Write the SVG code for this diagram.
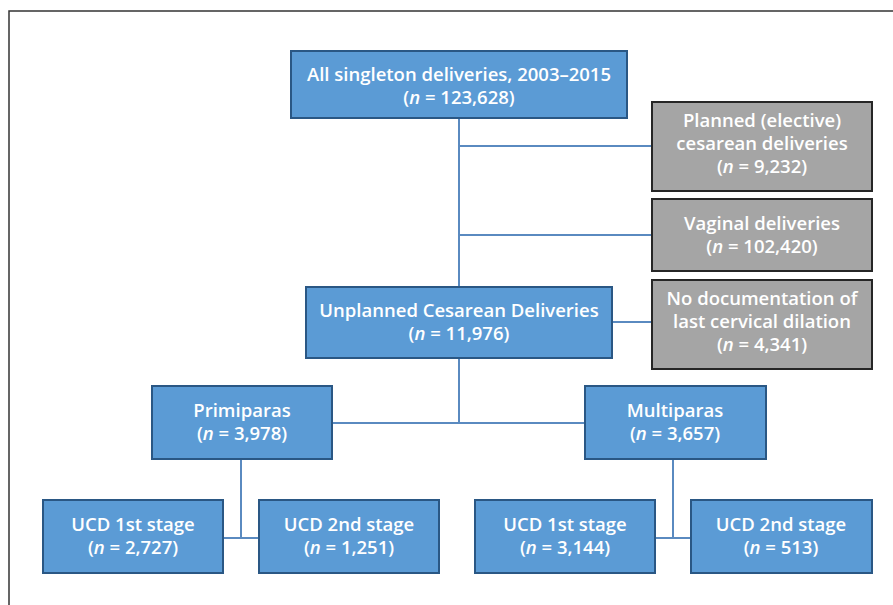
<svg xmlns="http://www.w3.org/2000/svg" width="893" height="605" viewBox="0 0 893 605">
<style>
.b{fill:#5B9BD5;stroke:#2A5784;stroke-width:2}
.g{fill:#A5A5A5;stroke:#262626;stroke-width:2}
text{font-family:"Open Sans","Noto Sans","DejaVu Sans",sans-serif;font-size:18.5px;font-weight:600;fill:#FFFFFF;text-anchor:middle}
.c line{stroke:#5A8AC0;stroke-width:2}
</style>
<rect x="0" y="0" width="893" height="605" fill="#FFFFFF"/>
<path d="M9,605 V11 H893" fill="none" stroke="#333333" stroke-width="1.5"/>
<g class="c">
<line x1="459" y1="118" x2="459" y2="287"/>
<line x1="459" y1="146" x2="652" y2="146"/>
<line x1="459" y1="235" x2="652" y2="235"/>
<line x1="612" y1="322" x2="652" y2="322"/>
<line x1="459" y1="358" x2="459" y2="423"/>
<line x1="332" y1="423" x2="585" y2="423"/>
<line x1="241" y1="459" x2="241" y2="538"/>
<line x1="223" y1="538" x2="259" y2="538"/>
<line x1="673" y1="459" x2="673" y2="538"/>
<line x1="655" y1="538" x2="691" y2="538"/>
</g>
<g id="all">
<rect class="b" x="291" y="51" width="336" height="67"/>
<text x="459" y="81">All singleton deliveries, 2003–2015</text>
<text x="459" y="104">(<tspan font-style="italic">n</tspan> = 123,628)</text>
</g>
<g id="planned">
<rect class="g" x="652" y="102" width="220" height="89"/>
<text x="762" y="127">Planned (elective)</text>
<text x="762" y="150">cesarean deliveries</text>
<text x="762" y="173">(<tspan font-style="italic">n</tspan> = 9,232)</text>
</g>
<g id="vaginal">
<rect class="g" x="652" y="199" width="220" height="72"/>
<text x="762" y="230">Vaginal deliveries</text>
<text x="762" y="253">(<tspan font-style="italic">n</tspan> = 102,420)</text>
</g>
<g id="nodoc">
<rect class="g" x="652" y="280" width="220" height="89"/>
<text x="762" y="305">No documentation of</text>
<text x="762" y="328">last cervical dilation</text>
<text x="762" y="351">(<tspan font-style="italic">n</tspan> = 4,341)</text>
</g>
<g id="unplanned">
<rect class="b" x="306" y="287" width="306" height="71"/>
<text x="459" y="317">Unplanned Cesarean Deliveries</text>
<text x="459" y="340">(<tspan font-style="italic">n</tspan> = 11,976)</text>
</g>
<g id="primi">
<rect class="b" x="152" y="386" width="180" height="73"/>
<text x="242" y="417">Primiparas</text>
<text x="242" y="440">(<tspan font-style="italic">n</tspan> = 3,978)</text>
</g>
<g id="multi">
<rect class="b" x="585" y="386" width="181" height="73"/>
<text x="675" y="417">Multiparas</text>
<text x="675" y="440">(<tspan font-style="italic">n</tspan> = 3,657)</text>
</g>
<g id="p1">
<rect class="b" x="43" y="500" width="180" height="73"/>
<text x="133" y="531">UCD 1st stage</text>
<text x="133" y="554">(<tspan font-style="italic">n</tspan> = 2,727)</text>
</g>
<g id="p2">
<rect class="b" x="259" y="500" width="180" height="73"/>
<text x="349" y="531">UCD 2nd stage</text>
<text x="349" y="554">(<tspan font-style="italic">n</tspan> = 1,251)</text>
</g>
<g id="m1">
<rect class="b" x="475" y="500" width="180" height="73"/>
<text x="565" y="531">UCD 1st stage</text>
<text x="565" y="554">(<tspan font-style="italic">n</tspan> = 3,144)</text>
</g>
<g id="m2">
<rect class="b" x="691" y="500" width="181" height="73"/>
<text x="781" y="531">UCD 2nd stage</text>
<text x="781" y="554">(<tspan font-style="italic">n</tspan> = 513)</text>
</g>
</svg>
